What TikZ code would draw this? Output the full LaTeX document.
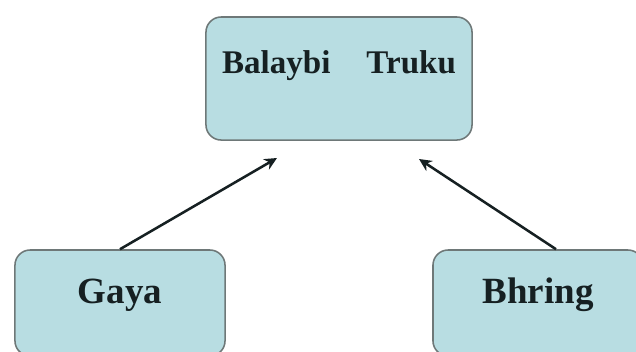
\documentclass[tikz,border=0pt]{standalone}
\usepackage{fontspec}
\setmainfont{Liberation Serif}
\usepackage{xcolor}
\definecolor{BoxFill}{HTML}{B8DDE2}
\definecolor{BoxLine}{HTML}{6E7878}
\definecolor{InkDark}{HTML}{162022}
\usepackage{tikz}
\usetikzlibrary{arrows.meta, positioning}

\tikzset{
  langbox/.style={draw=BoxLine, line width=1.1pt, fill=BoxFill, rounded corners=0.38cm,
    inner sep=0pt, text=InkDark, anchor=base},
  linkarrow/.style={-{Stealth[length=9pt,width=8.5pt]}, line width=1.8pt, draw=InkDark}
}

\begin{document}
\begin{tikzpicture}[x=0.025cm, y=-0.025cm]
  \useasboundingbox (0,0) rectangle (636,351);
  \node[langbox, minimum width=6.65cm, text height=1.4cm, text depth=1.675cm,
    font=\bfseries\fontsize{23.5}{28}\selectfont] (family) at (339,73) {Balaybi\hspace{0.9cm}Truku};
  \node[langbox, minimum width=5.25cm, text height=1.325cm, text depth=1.325cm,
    font=\bfseries\fontsize{26.3}{30}\selectfont] (gaya) at (120,303) {Gaya};
  \node[langbox, minimum width=5.25cm, text height=1.325cm, text depth=1.325cm,
    font=\bfseries\fontsize{26.3}{30}\selectfont] (bhring) at (538,303) {Bhring};
  % arrow tips stop short of the top box
  \coordinate (leftTip) at (277,158);
  \coordinate (rightTip) at (419,159);
  \draw[linkarrow] (gaya.north) -- (leftTip);
  \draw[linkarrow] ([xshift=0.45cm]bhring.north) -- (rightTip);
\end{tikzpicture}
\end{document}
